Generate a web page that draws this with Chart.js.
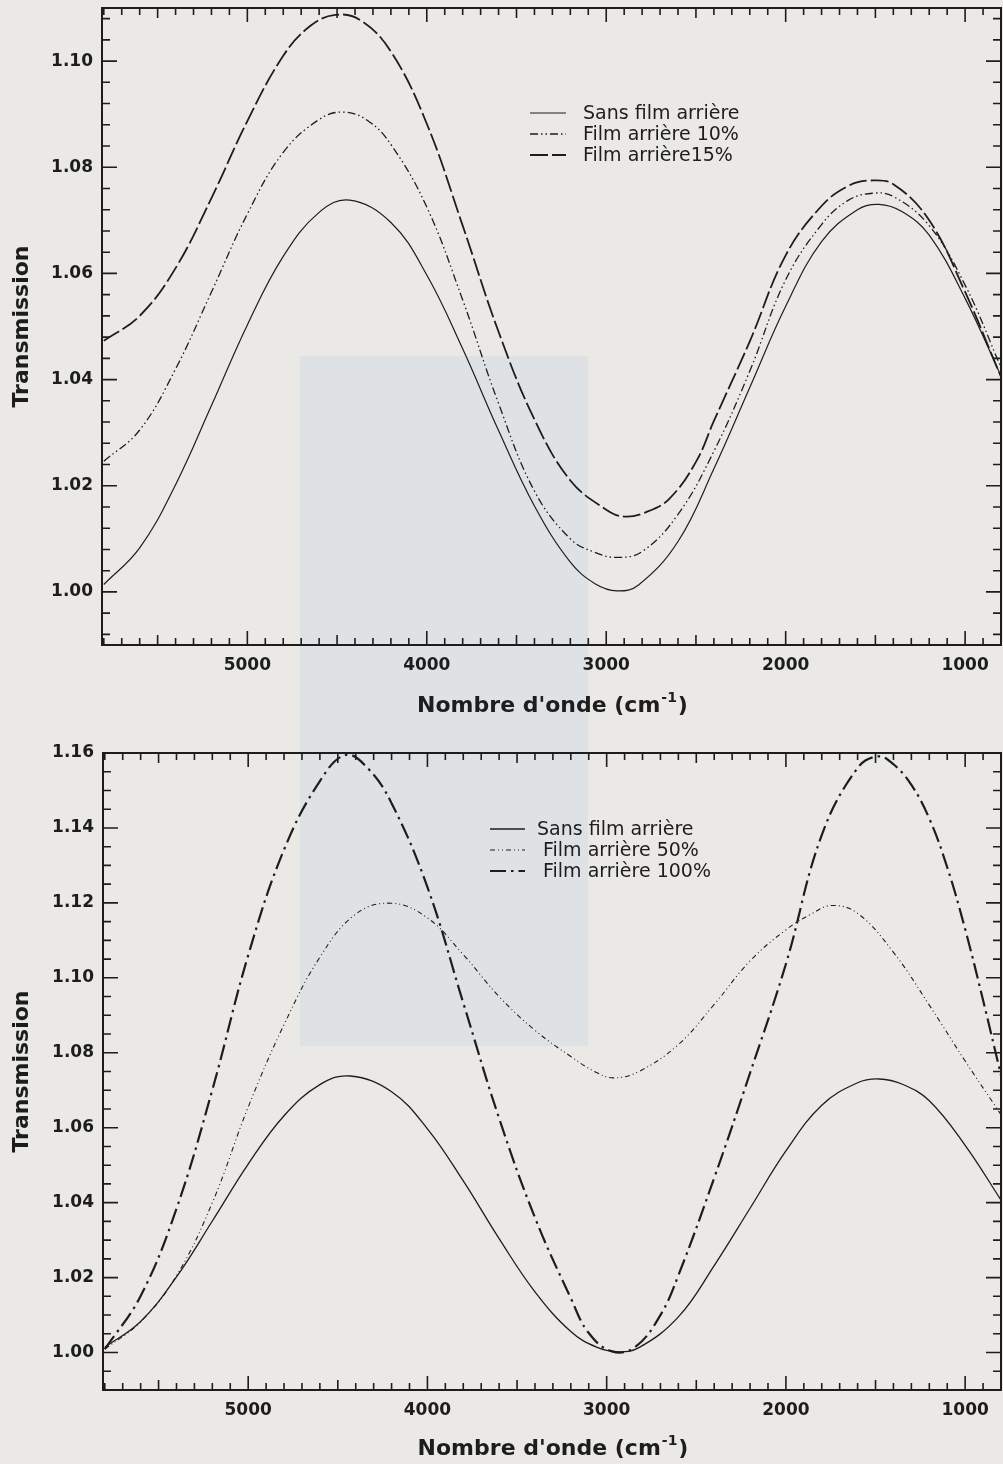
<!DOCTYPE html>
<html lang="fr">
<head>
<meta charset="utf-8">
<title>Transmission - film arrière</title>
<script src="https://cdn.jsdelivr.net/npm/chart.js@4.4.1/dist/chart.umd.min.js"></script>
<style>
  html, body { margin: 0; padding: 0; }
  body { width: 1003px; height: 1464px; background: #eae9e5; position: relative; overflow: hidden; }
  .shade { position: absolute; left: 300px; top: 356px; width: 288px; height: 690px; background: #dfe2e4; }
  .box { position: absolute; left: 0; width: 1003px; }
  #box-top { top: 0; height: 730px; }
  #box-bottom { top: 730px; height: 734px; }
</style>
</head>
<body>
<div class="shade"></div>
<div class="box" id="box-top"><canvas id="chartTop"></canvas></div>
<div class="box" id="box-bottom"><canvas id="chartBottom"></canvas></div>

<script>
// ---- données (nombre d'onde en cm-1, transmission) ----
const sansFilmWn = [5800, 5600, 5400, 5200, 5000, 4800, 4600, 4430, 4200, 4000, 3800, 3600, 3400, 3200, 3060, 2940, 2820, 2600, 2400, 2200, 2000, 1800, 1600, 1480, 1350, 1200, 1000, 800];
const sansFilmT  = [1.0014, 1.0083, 1.0202, 1.0351, 1.0503, 1.0632, 1.0715, 1.0738, 1.0696, 1.0597, 1.0458, 1.0304, 1.0162, 1.0056, 1.0015, 1.0002, 1.0013, 1.0095, 1.0232, 1.0385, 1.0538, 1.0660, 1.0720, 1.0730, 1.0716, 1.0672, 1.0553, 1.0407];

// graphe du haut
const film10Wn = [5800, 5600, 5400, 5200, 5000, 4800, 4600, 4465, 4330, 4200, 4000, 3800, 3600, 3400, 3200, 3060, 2940, 2800, 2600, 2400, 2200, 2000, 1800, 1650, 1515, 1400, 1200, 1000, 800];
const film10T  = [1.0246, 1.0305, 1.0420, 1.0565, 1.0712, 1.0828, 1.0890, 1.0904, 1.0888, 1.0843, 1.0725, 1.0550, 1.0355, 1.0190, 1.0100, 1.0074, 1.0065, 1.0076, 1.0146, 1.0265, 1.0416, 1.0588, 1.0692, 1.0738, 1.0751, 1.0745, 1.0690, 1.0578, 1.0423];

const film15Wn = [5800, 5600, 5400, 5200, 5000, 4800, 4650, 4510, 4370, 4200, 4000, 3800, 3600, 3400, 3200, 3000, 2900, 2780, 2650, 2500, 2400, 2200, 2000, 1800, 1650, 1530, 1400, 1200, 1000, 800];
const film15T  = [1.0473, 1.0520, 1.0610, 1.0742, 1.0887, 1.1010, 1.1066, 1.1087, 1.1077, 1.1018, 1.0882, 1.0690, 1.0490, 1.0325, 1.0210, 1.0155, 1.0142, 1.0150, 1.0175, 1.0245, 1.0322, 1.0472, 1.0634, 1.0727, 1.0765, 1.0775, 1.0768, 1.0700, 1.0565, 1.0405];

// graphe du bas
const film50Wn = [5800, 5600, 5400, 5200, 5000, 4800, 4600, 4400, 4200, 4000, 3800, 3600, 3400, 3200, 3060, 2960, 2820, 2600, 2400, 2200, 2000, 1860, 1745, 1600, 1400, 1200, 1000, 800];
const film50T  = [1.0009, 1.0082, 1.0205, 1.0400, 1.0655, 1.0875, 1.1055, 1.1170, 1.1199, 1.1160, 1.1062, 1.0950, 1.0860, 1.0790, 1.0748, 1.0733, 1.0750, 1.0822, 1.0929, 1.1045, 1.1128, 1.1170, 1.1193, 1.1172, 1.1068, 1.0927, 1.0778, 1.0635];

const film100Wn = [5800, 5600, 5400, 5200, 5000, 4800, 4600, 4455, 4330, 4200, 4000, 3800, 3600, 3400, 3200, 3100, 2970, 2840, 2700, 2600, 2400, 2200, 2000, 1800, 1600, 1485, 1400, 1300, 1200, 1100, 1000, 900, 800];
const film100T  = [1.0009, 1.0151, 1.0384, 1.0701, 1.1060, 1.1342, 1.1525, 1.1595, 1.1558, 1.1466, 1.1242, 1.0933, 1.0625, 1.0360, 1.0145, 1.0052, 1.0003, 1.0015, 1.0100, 1.0206, 1.0466, 1.0746, 1.1037, 1.1381, 1.1560, 1.1591, 1.1570, 1.1515, 1.1425, 1.1295, 1.1130, 1.0940, 1.0740];

// graduations
const xTickValues = [5000, 4000, 3000, 2000, 1000];
const yTicksTop = [1.00, 1.02, 1.04, 1.06, 1.08, 1.10];
const yTicksBottom = [1.00, 1.02, 1.04, 1.06, 1.08, 1.10, 1.12, 1.14, 1.16];

const INK = '#1d1d1d';
const FONT = '"DejaVu Sans", "Liberation Sans", sans-serif';

function toPoints(wn, t) {
    return wn.map((w, i) => ({ x: w, y: t[i] }));
}

function lineSet(label, wn, t, width, dash) {
    return {
        label: label,
        data: toPoints(wn, t),
        borderColor: INK,
        borderWidth: width,
        borderDash: dash,
        borderCapStyle: 'butt',
        pointRadius: 0,
        fill: false,
        tension: 0.4
    };
}

// cadre, graduations internes, titres d'axes et légende
const framePlugin = {
    id: 'frame',
    afterDraw(chart, args, opts) {
        const ctx = chart.ctx;
        const a = chart.chartArea;
        const xs = chart.scales.x;
        const ys = chart.scales.y;
        ctx.save();
        ctx.strokeStyle = INK;
        ctx.lineWidth = 2;
        ctx.strokeRect(a.left, a.top, a.right - a.left, a.bottom - a.top);

        ctx.lineWidth = 1.6;
        ctx.beginPath();
        for (let w = 900; w <= 5800; w += 100) {
            const px = xs.getPixelForValue(w);
            const len = w % 1000 === 0 ? 14 : (w % 500 === 0 ? 10 : 7);
            ctx.moveTo(px, a.bottom); ctx.lineTo(px, a.bottom - len);
            ctx.moveTo(px, a.top); ctx.lineTo(px, a.top + len);
        }
        const n0 = Math.ceil(ys.min / opts.yMinor - 1e-6);
        const n1 = Math.floor(ys.max / opts.yMinor + 1e-6);
        for (let i = n0; i <= n1; i++) {
            const py = ys.getPixelForValue(i * opts.yMinor);
            const len = i % opts.yMajorEvery === 0 ? 15 : 8;
            ctx.moveTo(a.left, py); ctx.lineTo(a.left + len, py);
            ctx.moveTo(a.right, py); ctx.lineTo(a.right - len, py);
        }
        ctx.stroke();

        // titre axe y
        ctx.fillStyle = INK;
        ctx.font = 'bold 22px ' + FONT;
        ctx.textAlign = 'center';
        ctx.textBaseline = 'middle';
        ctx.save();
        ctx.translate(22, (a.top + a.bottom) / 2);
        ctx.rotate(-Math.PI / 2);
        ctx.fillText('Transmission', 0, 0);
        ctx.restore();

        // titre axe x avec exposant
        const main = "Nombre d'onde (cm";
        const sup = '-1';
        const close = ')';
        ctx.textAlign = 'left';
        ctx.textBaseline = 'alphabetic';
        ctx.font = 'bold 22px ' + FONT;
        const wMain = ctx.measureText(main).width;
        const wClose = ctx.measureText(close).width;
        ctx.font = 'bold 14px ' + FONT;
        const wSup = ctx.measureText(sup).width;
        let x0 = (a.left + a.right) / 2 - (wMain + wSup + wClose) / 2;
        const base = a.bottom + opts.titleOffset;
        ctx.font = 'bold 22px ' + FONT;
        ctx.fillText(main, x0, base);
        ctx.font = 'bold 14px ' + FONT;
        ctx.fillText(sup, x0 + wMain + 1, base - 10);
        ctx.font = 'bold 22px ' + FONT;
        ctx.fillText(close, x0 + wMain + wSup + 2, base);

        // légende
        const lg = opts.legend;
        ctx.font = '19px ' + FONT;
        ctx.textBaseline = 'middle';
        chart.data.datasets.forEach((ds, i) => {
            const y = lg.rows[i];
            ctx.save();
            ctx.lineWidth = ds.borderWidth;
            ctx.setLineDash(ds.borderDash || []);
            ctx.beginPath();
            ctx.moveTo(lg.lineX[0], y);
            ctx.lineTo(lg.lineX[1], y);
            ctx.stroke();
            ctx.restore();
            ctx.fillText(ds.label, lg.textX[i], y + 1);
        });
        ctx.restore();
    }
};

function makeOptions(yMin, yMax, yTicks, yWidth, padTop, xHeight, frameOpts) {
    return {
        responsive: true,
        maintainAspectRatio: false,
        animation: false,
        layout: { padding: { top: padTop, right: 2, bottom: 0, left: 0 } },
        plugins: {
            legend: { display: false },
            tooltip: { enabled: false },
            frame: frameOpts
        },
        scales: {
            x: {
                type: 'linear',
                reverse: true,
                min: 800,
                max: 5810,
                grid: { display: false, drawTicks: false },
                border: { display: false },
                afterBuildTicks: s => { s.ticks = xTickValues.map(v => ({ value: v })); },
                afterFit: s => {
                    s.height = xHeight;
                    s.paddingLeft = 0; s.paddingRight = 0;
                },
                ticks: {
                    autoSkip: false,
                    maxRotation: 0,
                    padding: 10,
                    color: INK,
                    font: { family: FONT, size: 17, weight: 'bold' },
                    callback: v => String(v)
                }
            },
            y: {
                type: 'linear',
                min: yMin,
                max: yMax,
                grid: { display: false, drawTicks: false },
                border: { display: false },
                afterBuildTicks: s => { s.ticks = yTicks.map(v => ({ value: v })); },
                afterFit: s => {
                    s.width = yWidth;
                    s.paddingTop = 0; s.paddingBottom = 0;
                },
                ticks: {
                    autoSkip: false,
                    padding: 9,
                    color: INK,
                    font: { family: FONT, size: 17, weight: 'bold' },
                    callback: v => v.toFixed(2)
                }
            }
        }
    };
}

document.addEventListener('DOMContentLoaded', function() {
    // graphe du haut : 10% / 15%
    new Chart(document.getElementById('chartTop').getContext('2d'), {
        type: 'line',
        data: {
            datasets: [
                lineSet('Sans film arrière', sansFilmWn, sansFilmT, 1.2, []),
                lineSet('Film arrière 10%', film10Wn, film10T, 1.3, [8, 3, 1.5, 3, 1.5, 3]),
                lineSet('Film arrière15%', film15Wn, film15T, 1.8, [18, 4])
            ]
        },
        options: makeOptions(0.99, 1.11, yTicksTop, 102, 8, 85, {
            yMinor: 0.004, yMajorEvery: 5, titleOffset: 67,
            legend: { rows: [113, 134, 155], lineX: [530, 566], textX: [583, 583, 583] }
        }),
        plugins: [framePlugin]
    });

    // graphe du bas : 50% / 100%
    new Chart(document.getElementById('chartBottom').getContext('2d'), {
        type: 'line',
        data: {
            datasets: [
                lineSet('Sans film arrière', sansFilmWn, sansFilmT, 1.3, []),
                lineSet('Film arrière 50%', film50Wn, film50T, 1.1, [5, 3, 1, 3, 1, 3]),
                lineSet('Film arrière 100%', film100Wn, film100T, 2.2, [16, 5, 2.5, 5])
            ]
        },
        options: makeOptions(0.99, 1.16, yTicksBottom, 103, 23, 74, {
            yMinor: 0.005, yMajorEvery: 4, titleOffset: 65,
            legend: { rows: [99, 120, 141], lineX: [490, 525], textX: [537, 543, 543] }
        }),
        plugins: [framePlugin]
    });
});
</script>
</body>
</html>
